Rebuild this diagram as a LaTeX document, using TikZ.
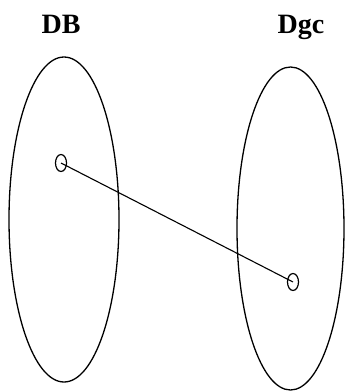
\documentclass[tikz,border=0pt]{standalone}
\usepackage{fontspec}
\setmainfont{Liberation Serif}
\usetikzlibrary{shapes.geometric}
\begin{document}
\begin{tikzpicture}[x=1pt,y=-1pt,
  lbl/.style={font=\fontsize{28}{30}\selectfont\bfseries, inner sep=0pt, anchor=base},
  setline/.style={draw, line width=1.3pt},
  dot/.style={draw, ellipse, line width=1.2pt, minimum width=11pt, minimum height=17pt, inner sep=0pt}]
\useasboundingbox (0,0) rectangle (345,392);
\node[setline, ellipse, minimum width=110pt, minimum height=325pt, inner sep=0pt] (A) at (64,219.5) {};
\node[setline, ellipse, minimum width=107pt, minimum height=323pt, inner sep=0pt] (B) at (290.5,228.5) {};
\node[lbl] (db) at (61,33) {DB};
\node[lbl] (dgc) at (301,33) {Dgc};
\node[dot] (p) at (61,163) {};
\node[dot] (q) at (293,282) {};
\draw[line width=1.1pt] (p.center) -- (q.center);
\end{tikzpicture}
\end{document}
